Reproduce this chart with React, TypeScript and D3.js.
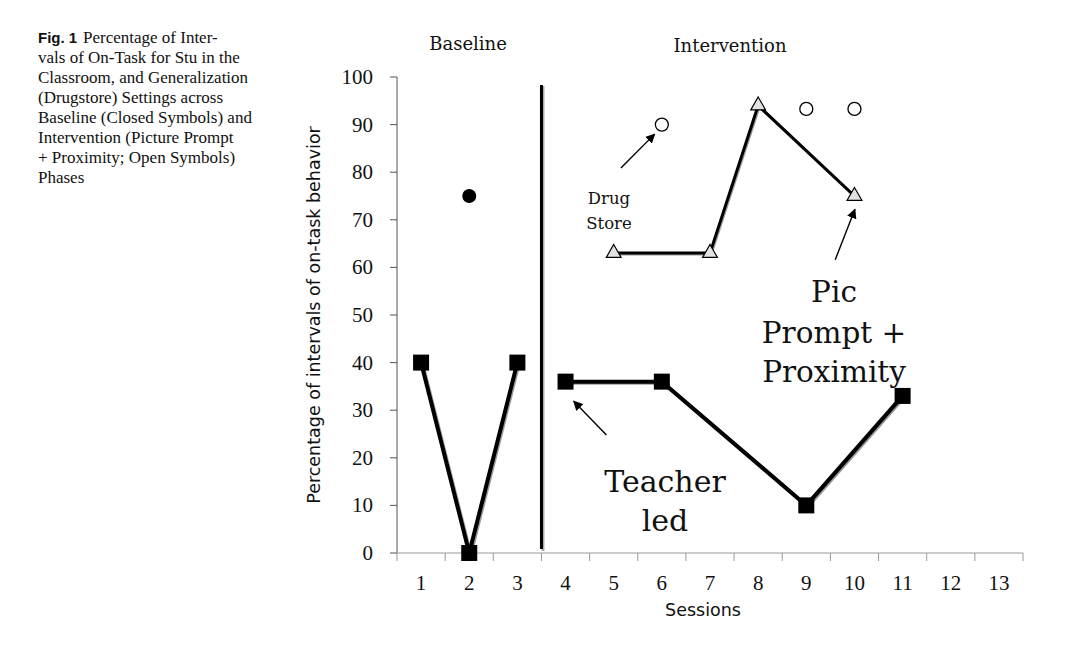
import * as d3 from "d3";

// sessions on the x axis
const sessions = [1, 2, 3, 4, 5, 6, 7, 8, 9, 10, 11, 12, 13];
const yTicks = [0, 10, 20, 30, 40, 50, 60, 70, 80, 90, 100];

// teacher led (closed squares), split by phase
const teacherBaseSessions = [1, 2, 3];
const teacherBaseValues = [40, 0, 40];
const teacherIntSessions = [4, 6, 9, 11];
const teacherIntValues = [36, 36, 10, 33];

// picture prompt + proximity (open triangles)
const picSessions = [5, 7, 8, 10];
const picValues = [63, 63, 94, 75];

// drug store generalization: baseline closed circle, intervention open circles
const drugBaseSessions = [2];
const drugBaseValues = [75];
const drugIntSessions = [6, 9, 10];
const drugIntValues = [90, 93.3, 93.3];

const captionLines = [
     "vals of On-Task for Stu in the",
     "Classroom, and Generalization",
     "(Drugstore) Settings across",
     "Baseline (Closed Symbols) and",
     "Intervention (Picture Prompt",
     "+ Proximity; Open Symbols)",
     "Phases",
];

const W = 1091;
const H = 652;
const plot = { left: 397, right: 1023, top: 77, bottom: 553 };

const serif = "'Liberation Serif', 'Times New Roman', serif";
const cambria = "'DejaVu Serif', serif";
const sans = "'DejaVu Sans', Verdana, sans-serif";

export default function App() {
     const x = d3.scaleLinear().domain([0.5, 13.5]).range([plot.left, plot.right]);
     const y = d3.scaleLinear().domain([0, 100]).range([plot.bottom, plot.top]);

     const line = d3.line<[number, number]>()
          .x(d => x(d[0]))
          .y(d => y(d[1]));

     const zip = (s: number[], v: number[]) => s.map((d, i) => [d, v[i]] as [number, number]);

     const teacherBase = zip(teacherBaseSessions, teacherBaseValues);
     const teacherInt = zip(teacherIntSessions, teacherIntValues);
     const pic = zip(picSessions, picValues);
     const drugBase = zip(drugBaseSessions, drugBaseValues);
     const drugInt = zip(drugIntSessions, drugIntValues);

     const tri = d3.symbol().type(d3.symbolTriangle).size(95)();

     // annotation arrows in data units [fromSession, fromValue, toSession, toValue]
     const arrows: [number, number, number, number][] = [
          [5.15, 80.9, 5.85, 88.0],
          [4.85, 24.8, 4.17, 31.9],
          [9.6, 61.6, 10.01, 72.2],
     ];

     const phaseX = x(3.5);

     return (
          <div style={{ position: "absolute", left: 0, top: 0 }}>
               <svg width={W} height={H} style={{ display: "block", background: "#fff" }}>
                    <defs>
                         <marker id="arr" viewBox="0 0 10 10" refX="9" refY="5" markerWidth="7" markerHeight="7" orient="auto">
                              <path d="M0,0 L10,5 L0,10 z" fill="#000" />
                         </marker>
                    </defs>

                    {/* caption */}
                    <text x={38} y={43} fontSize={17} fontFamily={serif} fill="#111">
                         <tspan fontFamily="'Liberation Sans', Arial, sans-serif" fontWeight="bold" fontSize={15}>Fig. 1</tspan>
                         <tspan x={83}>Percentage of Inter-</tspan>
                    </text>
                    {captionLines.map((t, i) => (
                         <text key={i} x={38} y={43 + 20 * (i + 1)} fontSize={17} fontFamily={serif} fill="#111">{t}</text>
                    ))}

                    {/* phase titles */}
                    <text x={468} y={50} textAnchor="middle" fontSize={18} fontFamily={cambria} fill="#111">Baseline</text>
                    <text x={730} y={52} textAnchor="middle" fontSize={18} fontFamily={cambria} fill="#111">Intervention</text>

                    {/* y axis */}
                    <line x1={plot.left} x2={plot.left} y1={plot.top} y2={plot.bottom} stroke="#555" strokeWidth={1} />
                    {yTicks.map(t => (
                         <g key={t}>
                              <line x1={plot.left - 7} x2={plot.left} y1={y(t)} y2={y(t)} stroke="#555" />
                              <text x={373} y={y(t) + 7} textAnchor="end" fontSize={21} fontFamily={serif} fill="#111">{t}</text>
                         </g>
                    ))}

                    {/* x axis */}
                    <line x1={plot.left} x2={plot.right} y1={plot.bottom} y2={plot.bottom} stroke="#bbb" strokeWidth={1.5} />
                    {d3.range(0, 14).map(i => (
                         <line key={i} x1={x(i + 0.5)} x2={x(i + 0.5)} y1={plot.bottom} y2={plot.bottom + 8} stroke="#999" />
                    ))}
                    {sessions.map(s => (
                         <text key={s} x={x(s)} y={590} textAnchor="middle" fontSize={21} fontFamily={serif} fill="#111">{s}</text>
                    ))}

                    <text x={703} y={616} textAnchor="middle" fontSize={17.5} fontFamily={sans} fill="#111">Sessions</text>
                    <text transform={`translate(320,${(plot.top + plot.bottom) / 2}) rotate(-90)`} textAnchor="middle" fontSize={17.5} fontFamily={sans} fill="#111">
                         Percentage of intervals of on-task behavior
                    </text>

                    {/* phase change line */}
                    <line x1={phaseX + 1.5} x2={phaseX + 1.5} y1={86} y2={551} stroke="#aaa" strokeWidth={3} />
                    <line x1={phaseX} x2={phaseX} y1={85} y2={549} stroke="#000" strokeWidth={3} />

                    {/* teacher led lines */}
                    {[teacherBase, teacherInt].map((d, i) => (
                         <g key={i}>
                              <path d={line(d) || ""} fill="none" stroke="#999" strokeWidth={4} transform="translate(1.2,1.2)" />
                              <path d={line(d) || ""} fill="none" stroke="#000" strokeWidth={4} />
                         </g>
                    ))}

                    {/* pic prompt line */}
                    <path d={line(pic) || ""} fill="none" stroke="#999" strokeWidth={3} transform="translate(1,1)" />
                    <path d={line(pic) || ""} fill="none" stroke="#000" strokeWidth={3} />

                    {/* markers */}
                    {[...teacherBase, ...teacherInt].map((d, i) => (
                         <rect key={i} x={x(d[0]) - 8} y={y(d[1]) - 8} width={16} height={16} fill="#000" />
                    ))}
                    {pic.map((d, i) => (
                         <path key={i} d={tri || ""} transform={`translate(${x(d[0])},${y(d[1])})`} fill="#e2e2e2" stroke="#000" strokeWidth={1.2} />
                    ))}
                    {drugBase.map((d, i) => (
                         <circle key={i} cx={x(d[0])} cy={y(d[1])} r={7} fill="#000" />
                    ))}
                    {drugInt.map((d, i) => (
                         <circle key={i} cx={x(d[0])} cy={y(d[1])} r={6.5} fill="#fff" stroke="#000" strokeWidth={1.3} />
                    ))}

                    {/* annotations */}
                    {arrows.map((a, i) => (
                         <line key={i} x1={x(a[0])} y1={y(a[1])} x2={x(a[2])} y2={y(a[3])} stroke="#000" strokeWidth={1.4} markerEnd="url(#arr)" />
                    ))}
                    <text x={609} y={204} textAnchor="middle" fontSize={16.5} fontFamily={cambria} fill="#111">Drug</text>
                    <text x={609} y={229} textAnchor="middle" fontSize={16.5} fontFamily={cambria} fill="#111">Store</text>

                    <text x={834} y={302} textAnchor="middle" fontSize={29.5} fontFamily={cambria} fill="#111">Pic</text>
                    <text x={834} y={343} textAnchor="middle" fontSize={29.5} fontFamily={cambria} fill="#111">Prompt +</text>
                    <text x={834} y={382} textAnchor="middle" fontSize={29.5} fontFamily={cambria} fill="#111">Proximity</text>

                    <text x={665} y={492} textAnchor="middle" fontSize={30} fontFamily={cambria} fill="#111">Teacher</text>
                    <text x={665} y={531} textAnchor="middle" fontSize={30} fontFamily={cambria} fill="#111">led</text>
               </svg>
          </div>
     );
}
